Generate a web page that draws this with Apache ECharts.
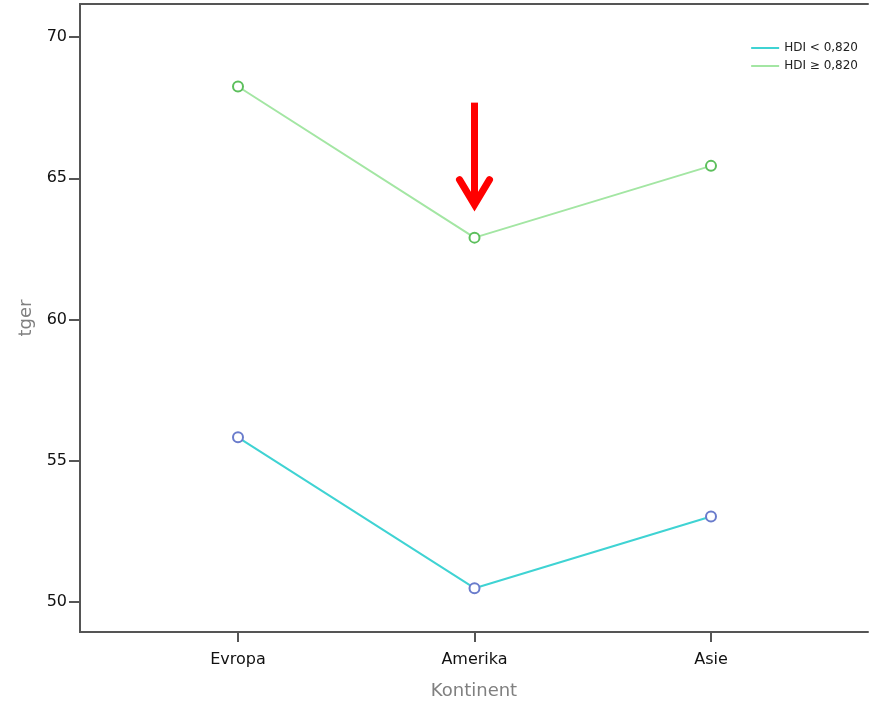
<!DOCTYPE html>
<html><head><meta charset="utf-8">
<script src="https://cdn.jsdelivr.net/npm/echarts@6/dist/echarts.min.js"></script>
<style>html,body{margin:0;padding:0;background:#fff}#c{width:875px;height:701px}</style>
</head><body><div id="c"></div>
<script>
const categories = ['Evropa', 'Amerika', 'Asie'];
const seriesNames = ['HDI < 0,820', 'HDI \u2265 0,820'];
const lowHDI = [55.83, 50.49, 53.03];
const highHDI = [68.25, 62.90, 65.44];
const yTicks = [50, 55, 60, 65, 70];
const yMin = 48.94, yMax = 71.17;
const xName = 'Kontinent', yName = 'tger';

const FONT = '"DejaVu Sans", sans-serif';
const FRAME = '#555';
const chart = echarts.init(document.getElementById('c'), null, {renderer: 'canvas'});

const lineCols = ['#3fd3d3', '#a3e6a3'];
const markCols = ['#6a7ccc', '#5cbf5c'];

const option = {
  animation: false,
  backgroundColor: '#fff',
  grid: [
    {left: 80, right: 7, top: 4, bottom: 69, containLabel: false, outerBoundsMode: 'none'},
    {left: 119.75, right: 45.75, top: 4, bottom: 69, containLabel: false, outerBoundsMode: 'none'}
  ],
  legend: {
    right: 12, top: 37, orient: 'vertical', itemGap: 6,
    itemWidth: 28, itemHeight: 2, icon: 'rect',
    textStyle: {fontFamily: FONT, fontSize: 12, color: '#222'},
    data: seriesNames.map((n, i) => ({
      name: n,
      itemStyle: {color: lineCols[i], borderColor: lineCols[i], borderWidth: 0}
    }))
  },
  xAxis: [
    {gridIndex: 0, type: 'value', min: 0, max: 1, position: 'bottom',
     axisLine: {show: true, lineStyle: {color: FRAME, width: 2}},
     axisTick: {show: false}, axisLabel: {show: false}, splitLine: {show: false},
     name: xName, nameLocation: 'middle', nameGap: 50,
     nameTextStyle: {fontFamily: FONT, fontSize: 18, color: '#808080'}},
    {gridIndex: 0, type: 'value', min: 0, max: 1, position: 'top',
     axisLine: {show: true, lineStyle: {color: FRAME, width: 2}},
     axisTick: {show: false}, axisLabel: {show: false}, splitLine: {show: false}},
    {gridIndex: 1, type: 'category', data: categories, boundaryGap: true,
     axisLine: {show: false},
     axisTick: {show: true, alignWithLabel: true, length: 10, lineStyle: {color: FRAME, width: 2}},
     axisLabel: {fontFamily: FONT, fontSize: 16, color: '#111', margin: 20},
     splitLine: {show: false}}
  ],
  yAxis: [
    {gridIndex: 0, type: 'value', min: yMin, max: yMax, position: 'left',
     axisLine: {show: true, lineStyle: {color: FRAME, width: 2}},
     axisTick: {show: true, length: 11, customValues: yTicks, lineStyle: {color: FRAME, width: 2}},
     axisLabel: {customValues: yTicks, fontFamily: FONT, fontSize: 16, color: '#111', margin: 13},
     splitLine: {show: false},
     name: yName, nameLocation: 'middle', nameGap: 38, nameRotate: 90,
     nameTextStyle: {fontFamily: FONT, fontSize: 18, color: '#808080'}},
    {gridIndex: 0, type: 'value', min: yMin, max: yMax, position: 'right',
     axisLine: {show: true, lineStyle: {color: FRAME, width: 2}},
     axisTick: {show: false}, axisLabel: {show: false}, splitLine: {show: false}},
    {gridIndex: 1, type: 'value', min: yMin, max: yMax, show: false, splitLine: {show: false}}
  ],
  series: [lowHDI, highHDI].map((d, i) => ({
    name: seriesNames[i], type: 'line', xAxisIndex: 2, yAxisIndex: 2,
    data: d, symbol: 'emptyCircle', symbolSize: 10,
    lineStyle: {color: lineCols[i], width: 2},
    itemStyle: {color: markCols[i], borderColor: markCols[i], borderWidth: 1.5}
  }))
};
chart.setOption(option);

const p = chart.convertToPixel({xAxisIndex: 2, yAxisIndex: 2}, ['Amerika', highHDI[1]]);
const tipY = p[1] - 30;
chart.setOption({
  graphic: [
    {type: 'line', shape: {x1: p[0], y1: tipY - 105, x2: p[0], y2: tipY - 4},
     style: {stroke: '#ff0000', lineWidth: 7}},
    {type: 'polyline', shape: {points: [[p[0] - 15, tipY - 28], [p[0], tipY - 3], [p[0] + 15, tipY - 28]]},
     style: {stroke: '#ff0000', lineWidth: 7, fill: null, lineJoin: 'miter', lineCap: 'round'}}
  ]
});
</script></body></html>
